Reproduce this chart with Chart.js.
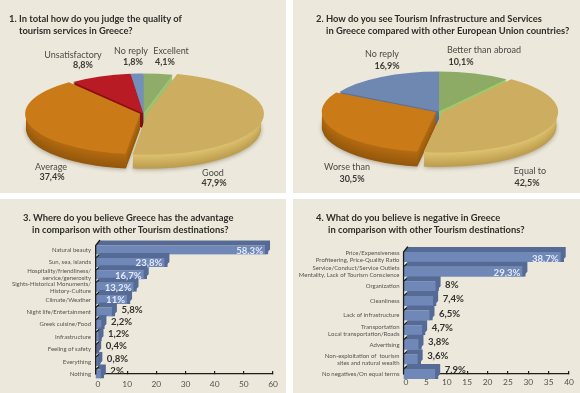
<!DOCTYPE html>
<html lang="en">
<head>
<meta charset="UTF-8" />
<title>Tourism survey</title>
<script src="https://cdn.jsdelivr.net/npm/chart.js"></script>
<style>
html, body { margin: 0; padding: 0; background: #fff; }
body { width: 580px; height: 393px; position: relative; overflow: hidden; font-family: Lato, sans-serif; filter: blur(0.35px); }
.panel { position: absolute; background: #ece8dc; }
.panel canvas { position: absolute; left: 0; top: 0; }
.t { position: absolute; font-weight: 700; font-size: 9.4px; line-height: 11.5px; color: #2e2e2a; white-space: nowrap; }
.t span { display: block; }
</style>
</head>
<body>
<div class="panel" style="left:0;top:0;width:286px;height:193px"><canvas id="c1" width="286" height="193"></canvas>
  <div class="t" style="left:9px;top:13px">1. In total how do you judge the quality of<span style="margin-left:10px">tourism services in Greece?</span></div></div>
<div class="panel" style="left:293px;top:0;width:287px;height:193px"><canvas id="c2" width="287" height="193"></canvas>
  <div class="t" style="left:23px;top:13px">2. How do you see Tourism Infrastructure and Services<span style="margin-left:10px">in Greece compared with other European Union countries?</span></div></div>
<div class="panel" style="left:0;top:199px;width:286px;height:194px"><canvas id="c3" width="286" height="194"></canvas>
  <div class="t" style="left:23px;top:13px">3. Where do you believe Greece has the advantage<span style="margin-left:9px">in comparison with other Tourism destinations?</span></div></div>
<div class="panel" style="left:293px;top:199px;width:287px;height:194px"><canvas id="c4" width="287" height="194"></canvas>
  <div class="t" style="left:23px;top:13px">4. What do you believe is negative in Greece<span style="margin-left:12px">in comparison with other Tourism destinations?</span></div></div>

<script>
// chart 1
const cats1 = ['Excellent', 'Good', 'Average', 'Unsatisfactory', 'No reply'];
const vals1 = [4.1, 47.9, 37.4, 8.8, 1.8];
// chart 2
const cats2 = ['Better than abroad', 'Equal to', 'Worse than', 'No reply'];
const vals2 = [10.1, 42.5, 30.5, 16.9];
// chart 3
const cats3 = ['Natural beauty', 'Sun, sea, islands', ['Hospitality/friendliness/', 'service/generosity'],
  ['Sights-Historical Monuments/', 'History-Culture'], 'Climate/Weather', 'Night life/Entertainment',
  'Greek cuisine/Food', 'Infrastructure', 'Feeling of safety', 'Everything', 'Nothing'];
const vals3 = [58.3, 23.8, 16.7, 13.2, 11, 5.8, 2.2, 1.2, 0.4, 0.8, 2];
// chart 4
const cats4 = [['Price/Expensiveness', 'Profiteering, Price-Quality Ratio'],
  ['Service/Conduct/Service Outlets', 'Mentality, Lack of Tourism Conscience'], 'Organization', 'Cleanliness',
  'Lack of infrastructure', ['Transportation', 'Local transportation/Roads'], 'Advertising',
  ['Non-exploitation of  tourism', 'sites and natural wealth'], 'No negatives/On equal terms'];
const vals4 = [38.7, 29.3, 8, 7.4, 6.5, 4.7, 3.8, 3.6, 7.9];

const fmt = v => String(v).replace('.', ',') + '%';
const FONT = 'Lato, sans-serif';

// label anchors inside each pie panel: [name x, name y, value x, value y]
const pos1 = [[171,51,165,62], [213,173,214,183], [51,167,52,177], [73,55,83,65], [131,51,133,62]];
const pos2 = [[191,50,168,62], [237,171,234,183], [54,167,59,179], [89,54,94,66]];

const faces1 = ['#8fad68', '#cdae60', '#ca7a17', '#b91b25', '#7290bb'];
const walls1 = [[[163,199,119],[143,174,104]], [[224,198,116],[189,157,78]], [[181,108,18],[148,88,12]], [[142,16,22],[122,12,18]], [[95,123,165],[80,105,143]]];
const faces2 = ['#8dab64', '#cdae60', '#ca7a17', '#6f88b2'];
const walls2 = [[[156,207,110],[141,187,96]], [[224,198,116],[189,157,78]], [[181,108,18],[148,88,12]], [[91,115,153],[76,98,133]]];

const mix = (a, b, t) => 'rgb(' + a.map((v, i) => Math.round(v + (b[i] - v) * t)).join(',') + ')';

const pie3d = {
  id: 'pie3d',
  beforeDatasetsDraw(chart, args, o) {
    const ctx = chart.ctx, arcs = chart.getDatasetMeta(0).data;
    const cx = arcs[0].x, cy = arcs[0].y, k = o.ry / arcs[0].outerRadius;
    for (let d = o.depth; d >= 1; d--) {
      arcs.forEach((a, i) => {
        const mid = (a.startAngle + a.endAngle) / 2, off = (a.options.offset || 0) / 4;
        ctx.save();
        if (d === o.depth) { ctx.shadowColor = 'rgba(70,60,30,.4)'; ctx.shadowBlur = 4; ctx.shadowOffsetY = 1; }
        ctx.translate(cx, cy + d);
        ctx.scale(1, k);
        ctx.translate(Math.cos(mid) * off, Math.sin(mid) * off);
        ctx.beginPath();
        ctx.moveTo(0, 0);
        ctx.arc(0, 0, a.outerRadius, a.startAngle, a.endAngle);
        ctx.closePath();
        ctx.fillStyle = mix(o.walls[i][0], o.walls[i][1], d / o.depth);
        ctx.fill();
        ctx.restore();
      });
    }
    ctx.save();
    ctx.translate(cx, cy); ctx.scale(1, k); ctx.translate(-cx, -cy);
  },
  afterDatasetsDraw(chart, args, o) {
    const ctx = chart.ctx;
    ctx.restore();
    ctx.save();
    ctx.textAlign = 'center'; ctx.textBaseline = 'middle';
    o.pos.forEach((p, i) => {
      ctx.fillStyle = '#4b4a44';
      ctx.font = '9px ' + FONT;
      ctx.fillText(o.cats[i], p[0], p[1]);
      ctx.fillStyle = '#3c3b36';
      ctx.font = '700 9px ' + FONT;
      ctx.fillText(fmt(o.vals[i]), p[2], p[3]);
    });
    ctx.restore();
  }
};

const bar3d = {
  id: 'bar3d',
  afterDatasetsDraw(chart, args, o) {
    const ctx = chart.ctx, bars = chart.getDatasetMeta(0).data;
    const vals = chart.data.datasets[0].data;
    ctx.save();
    bars.forEach((b, i) => {
      const top = b.y - b.height / 2, bot = b.y + b.height / 2, left = b.base, xr = b.x + o.over;
      const band = top - o.band;
      // top band and slanted end of the bar
      ctx.fillStyle = '#566a96';
      ctx.beginPath();
      ctx.moveTo(left, top);
      ctx.lineTo(left + 4, band);
      ctx.lineTo(xr, band);
      ctx.lineTo(xr, bot - 5);
      ctx.lineTo(b.x - 3, bot);
      ctx.lineTo(b.x - 3, top);
      ctx.closePath();
      ctx.fill();
    });
    // y axis with slanted marks
    ctx.strokeStyle = '#1d1d1b'; ctx.lineCap = 'round';
    const topB = bars[0].y - bars[0].height / 2, botY = chart.scales.x.top, bl = bars[0].base;
    ctx.lineWidth = 1.3;
    ctx.beginPath();
    ctx.moveTo(bl, botY); ctx.lineTo(bl, topB); ctx.lineTo(bl + 4, topB - o.band);
    ctx.stroke();
    for (let i = 1; i < bars.length; i++) {
      const y = bars[i].y - bars[i].height / 2;
      ctx.lineWidth = 1.1;
      ctx.beginPath(); ctx.moveTo(bl, y); ctx.lineTo(bl + 3, y - 2.5); ctx.stroke();
    }
    // value labels
    ctx.font = '700 ' + o.fs + 'px ' + FONT;
    ctx.textBaseline = 'middle';
    bars.forEach((b, i) => {
      const inside = vals[i] >= 10;
      ctx.textAlign = inside ? 'right' : 'left';
      ctx.fillStyle = inside ? '#e4eaf7' : '#33322e';
      ctx.fillText(fmt(vals[i]), inside ? b.x - 5 : b.x + 6.5, inside ? b.y + o.inDown : b.y - o.up * i / (bars.length - 1));
    });
    ctx.restore();
  }
};

function pie(id, cats, vals, faces, walls, pos, left, top) {
  new Chart(document.getElementById(id), {
    type: 'pie',
    data: { labels: cats, datasets: [{ data: vals, backgroundColor: faces, borderWidth: 0, radius: 114, clip: false,
      offset: cats.map(c => (c === 'Good' || c === 'Average' || c === 'Equal to' || c === 'Worse than') ? 14 : 0) }] },
    options: {
      responsive: false, animation: false, events: [],
      layout: { padding: { top: top, left: left } },
      plugins: { legend: { display: false }, tooltip: { enabled: false },
        pie3d: { ry: 40, depth: 15, walls: walls, pos: pos, cats: cats, vals: vals } }
    },
    plugins: [pie3d]
  });
}

function bar(id, cats, vals, cfg) {
  new Chart(document.getElementById(id), {
    type: 'bar',
    data: { labels: cats, datasets: [{ data: vals, backgroundColor: '#7088b8', borderColor: '#566a96',
      borderWidth: { right: 3 }, borderSkipped: false, barThickness: cfg.thick, base: cfg.base, clip: false }] },
    options: {
      indexAxis: 'y', responsive: false, animation: false, events: [],
      layout: { padding: { top: cfg.top, right: cfg.right, left: 0, bottom: 0 } },
      scales: {
        x: { min: 0, max: cfg.max, afterFit: s => { s.height = 194 - cfg.axisY; },
          ticks: { stepSize: cfg.step, color: '#55544e', padding: cfg.tickPad, maxRotation: 0, font: { size: 8.4, family: FONT } },
          border: { color: '#1d1d1b', width: 1.2 },
          grid: { drawOnChartArea: false, color: '#1d1d1b', tickLength: -3, lineWidth: 1.2 } },
        y: { offset: false, afterFit: s => { s.width = cfg.x0; },
          ticks: { autoSkip: false, color: '#55544e', padding: cfg.labPad, font: { size: cfg.fs, family: FONT, lineHeight: 1.15 } },
          border: { display: false }, grid: { display: false, drawTicks: false } }
      },
      plugins: { legend: { display: false }, tooltip: { enabled: false },
        bar3d: { band: cfg.band, over: cfg.over, fs: 9.6, up: cfg.up, inDown: cfg.inDown } }
    },
    plugins: [bar3d]
  });
}

pie('c1', cats1, vals1, faces1, walls1, pos1, 1, 34);
pie('c2', cats2, vals2, faces2, walls2, pos2, 5, 30);
bar('c3', cats3, vals3, { thick: 9, base: -0.8, top: 51, right: 13, axisY: 175, x0: 98, max: 60, step: 10, tickPad: 8, labPad: 7, fs: 6, band: 5, over: 2, up: 3.5, inDown: 0.8 });
bar('c4', cats4, vals4, { thick: 10, base: -0.6, top: 58, right: 11, axisY: 175, x0: 113, max: 40, step: 5, tickPad: 6, labPad: 6.5, fs: 6, band: 5, over: 2, up: 4, inDown: 1.5 });
</script>
</body>
</html>
